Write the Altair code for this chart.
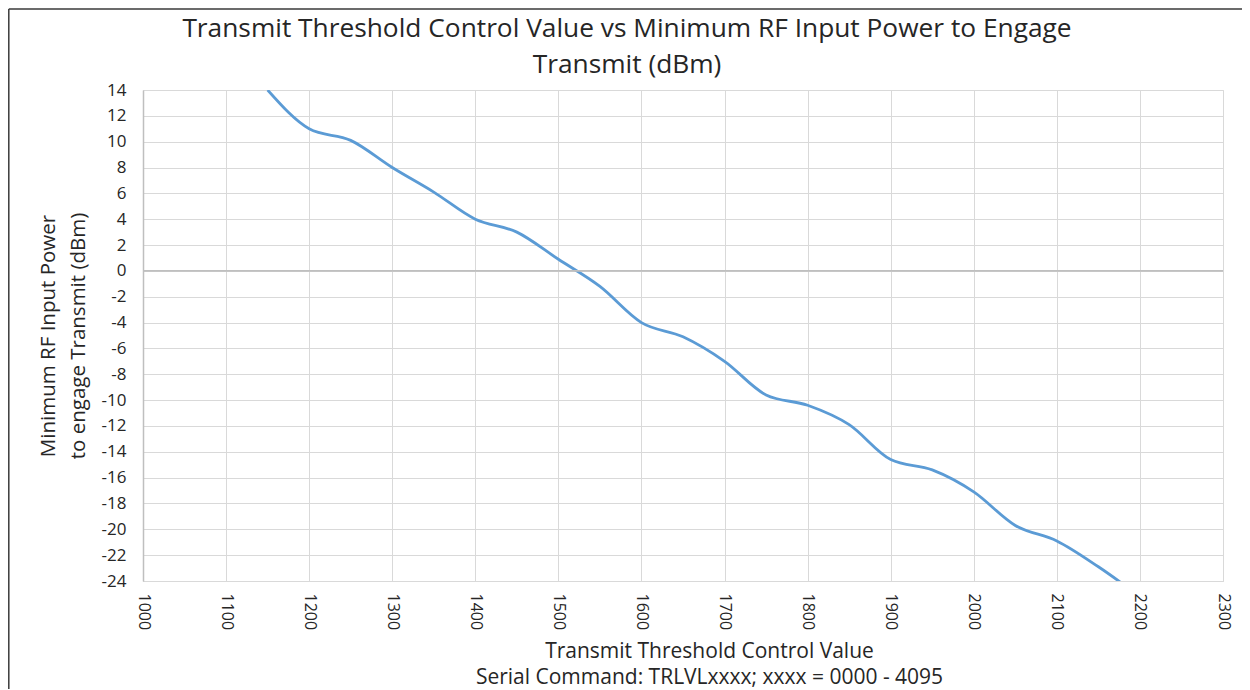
import altair as alt
import pandas as pd

# Data
control_values = [1150, 1200, 1250, 1300, 1350, 1400, 1450, 1500, 1550, 1600, 1650,
                  1700, 1750, 1800, 1850, 1900, 1950, 2000, 2050, 2100, 2150, 2200]
min_rf_power_dbm = [14, 11, 10.1, 8, 6.1, 4, 3, 0.9, -1.2, -4, -5.1,
                    -7, -9.6, -10.4, -11.9, -14.6, -15.4, -17.1, -19.7, -20.9, -22.9, -25.2]

x_ticks = list(range(1000, 2301, 100))
y_ticks = list(range(-24, 15, 2))

title_lines = ["Transmit Threshold Control Value vs Minimum RF Input Power to Engage",
               "Transmit (dBm)"]
x_title_lines = ["Transmit Threshold Control Value",
                 "Serial Command: TRLVLxxxx; xxxx = 0000  - 4095"]
y_title_lines = ["Minimum RF Input Power", "to engage Transmit (dBm)"]

FONT = "Open Sans"
TEXT = "#262626"

df = pd.DataFrame({"x": control_values, "y": min_rf_power_dbm})

x_scale = alt.Scale(domain=[1000, 2300], nice=False, zero=False)
y_scale = alt.Scale(domain=[-24, 14], nice=False, zero=False)

x_axis = alt.Axis(
    values=x_ticks, labelAngle=90, labelFontSize=16, labelFont=FONT,
    labelColor=TEXT, ticks=False, labelPadding=12, labelExpr="'' + datum.value",
    grid=True, gridColor="#D9D9D9", domainColor="#D9D9D9",
    title=x_title_lines, titleFont=FONT, titleFontSize=21, titleFontWeight="normal",
    titleColor=TEXT, titleX=566, titleY=76, titleBaseline="alphabetic",
    titleAlign="center", titleAnchor="start", titleLineHeight=26,
    labelOverlap=False, labelFlush=False)

y_axis = alt.Axis(
    values=y_ticks, labelFontSize=17, labelFont=FONT, labelColor=TEXT,
    labelExpr="'' + datum.value",
    ticks=False, labelPadding=17, grid=True, gridColor="#D9D9D9",
    domainColor="#BFBFBF", domainWidth=1.5,
    title=y_title_lines, titleFont=FONT, titleFontSize=20.5, titleFontWeight="normal",
    titleColor=TEXT, titleX=-95, titleY=245.5, titleBaseline="middle",
    titleAlign="center", titleAngle=270, titleLineHeight=30,
    labelOverlap=False, labelFlush=False)

line = alt.Chart(df).mark_line(
    color="#5B9BD5", strokeWidth=2.8, interpolate="monotone", clip=True
).encode(
    x=alt.X("x:Q", scale=x_scale, axis=x_axis),
    y=alt.Y("y:Q", scale=y_scale, axis=y_axis),
)

zero_rule = alt.Chart(pd.DataFrame({"y": [0]})).mark_rule(
    color="#BFBFBF", strokeWidth=1.8
).encode(y=alt.Y("y:Q", scale=y_scale, axis=y_axis))

# frame around the picture (top and left edges are visible in the reference)
frame_data = pd.DataFrame({"a": [0]})
frame_top = alt.Chart(frame_data).mark_rule(color="#3A3A3A", strokeWidth=1.5).encode(
    x=alt.value(-134.2), x2=alt.value(1100), y=alt.value(-81)
)
frame_left = alt.Chart(frame_data).mark_rule(color="#3A3A3A", strokeWidth=1.5).encode(
    x=alt.value(-134.2), y=alt.value(-81), y2=alt.value(620)
)

chart = alt.layer(line, zero_rule, frame_top, frame_left).properties(
    width=1080, height=491,
    title=alt.TitleParams(
        text=title_lines, font=FONT, fontSize=26.3, fontWeight="normal",
        color=TEXT, anchor="middle", frame="group", baseline="alphabetic",
        offset=-91, dx=-56, lineHeight=36),
    autosize=alt.AutoSizeParams(type="none"),
    padding={"left": 135, "top": 82, "right": 19, "bottom": 108},
).configure_view(stroke=None).configure(background="white")

chart.save("out.html", embed_options={"renderer": "svg", "actions": False})
